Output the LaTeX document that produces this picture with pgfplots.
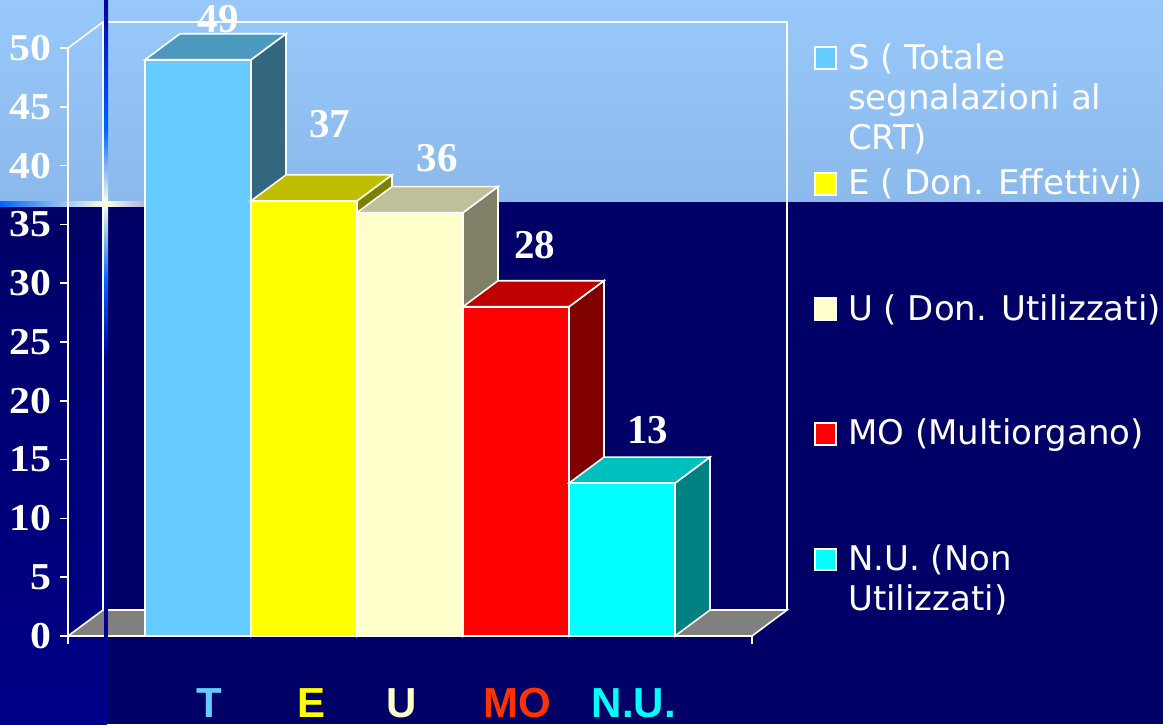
\documentclass[border=0pt]{standalone}
\usepackage{pgfplots}
\pgfplotsset{compat=1.18}
\usepackage{fontspec}
\setmainfont{DejaVu Sans}
\newfontfamily\timesfont{Liberation Serif}
\newfontfamily\arialfont{Liberation Sans}
\definecolor{navy}{HTML}{000066}
\definecolor{strip}{HTML}{000088}
\definecolor{bandtop}{RGB}{152,200,250}
\definecolor{bandbot}{RGB}{140,185,236}
\definecolor{floorgray}{HTML}{808080}
\definecolor{cTf}{HTML}{66CCFF}\definecolor{cTt}{HTML}{4C99BF}\definecolor{cTs}{HTML}{33667F}
\definecolor{cEf}{HTML}{FFFF00}\definecolor{cEt}{HTML}{BFBF00}\definecolor{cEs}{HTML}{808000}
\definecolor{cUf}{HTML}{FFFFCC}\definecolor{cUt}{HTML}{BFBF99}\definecolor{cUs}{HTML}{808066}
\definecolor{cMf}{HTML}{FF0000}\definecolor{cMt}{HTML}{BF0000}\definecolor{cMs}{HTML}{800000}
\definecolor{cNf}{HTML}{00FFFF}\definecolor{cNt}{HTML}{00BFBF}\definecolor{cNs}{HTML}{008080}
\definecolor{labMO}{HTML}{FF3300}
\definecolor{glint}{HTML}{FFFFE6}
\definecolor{brightblue}{HTML}{0066FF}
\definecolor{darkline}{HTML}{000099}
\definecolor{lowline}{HTML}{00008F}
\begin{document}
\begin{tikzpicture}[x=1pt,y=1pt]
% background
\fill[navy] (0,0) rectangle (1163,724);
\shade[bottom color=strip, top color=navy] (0,0) rectangle (107,522);
\shade[top color=bandtop, bottom color=bandbot] (0,522) rectangle (1163,724);
% horizontal glint line
\shade[left color=brightblue, right color=glint] (0,517) rectangle (105,522);
\shade[left color=glint, right color={rgb,255:red,176;green,176;blue,224}] (105,517) rectangle (145,522);

\begin{axis}[
  at={(68pt,88pt)}, anchor=south west,
  scale only axis, width=684pt, height=588pt,
  xmin=-1.2264, xmax=5.2264, ymin=0, ymax=50,
  clip=false, axis on top,
  axis x line*=bottom, axis y line*=left,
  axis line style={white, line width=1.6pt},
  tick align=outside, major tick length=8pt,
  xtick pos=left, ytick pos=left,
  ytick={0,5,...,50},
  y tick style={white, line width=1.6pt},
  /pgf/number format/assume math mode=true,
  yticklabel={\scalebox{1.1}[1]{\pgfmathprintnumber{\tick}}},
  yticklabel style={font=\timesfont\bfseries\fontsize{38}{38}\selectfont, text=white, anchor=east, inner sep=0pt, xshift=-8pt},
  xtick={0.108,1.075,1.925,3.009,4.113},
  xticklabels={{\color{cTf}T},{\color{cEf}E},{\color{cUf}U},{\color{labMO}MO},{\color{cNf}N.U.}},
  x tick style={draw=none},
  xticklabel style={font=\arialfont\bfseries\fontsize{42}{42}\selectfont, anchor=base, inner sep=0pt, yshift=-73pt},
  extra x ticks={-1.2264,5.2264},
  extra x tick labels={},
  extra x tick style={x tick style={draw=white, line width=1.6pt}},
]
% floor
\addplot[fill=floorgray, draw=white, line width=1.6pt] coordinates {(-1.2264,0) (5.2264,0) (5.5564,2.211) (-0.8964,2.211)} --cycle;
% back wall and side wall outline
\addplot[draw=white, line width=1.6pt] coordinates {(-0.8964,2.211) (-0.8964,52.211) (5.5564,52.211) (5.5564,2.211)};
\addplot[draw=white, line width=1.6pt] coordinates {(-1.2264,50) (-0.8964,52.211)};
% bar T = 49
\addplot[fill=cTs, draw=white, line width=1.6pt] coordinates {(0.5,0) (0.83,2.211) (0.83,51.211) (0.5,49)} --cycle;
\addplot[fill=cTt, draw=white, line width=1.6pt] coordinates {(-0.5,49) (0.5,49) (0.83,51.211) (-0.17,51.211)} --cycle;
\addplot[fill=cTf, draw=white, line width=1.6pt] coordinates {(-0.5,0) (0.5,0) (0.5,49) (-0.5,49)} --cycle;
% bar E = 37
\addplot[fill=cEs, draw=white, line width=1.6pt] coordinates {(1.5,0) (1.83,2.211) (1.83,39.211) (1.5,37)} --cycle;
\addplot[fill=cEt, draw=white, line width=1.6pt] coordinates {(0.5,37) (1.5,37) (1.83,39.211) (0.83,39.211)} --cycle;
\addplot[fill=cEf, draw=white, line width=1.6pt] coordinates {(0.5,0) (1.5,0) (1.5,37) (0.5,37)} --cycle;
% bar U = 36
\addplot[fill=cUs, draw=white, line width=1.6pt] coordinates {(2.5,0) (2.83,2.211) (2.83,38.211) (2.5,36)} --cycle;
\addplot[fill=cUt, draw=white, line width=1.6pt] coordinates {(1.5,36) (2.5,36) (2.83,38.211) (1.83,38.211)} --cycle;
\addplot[fill=cUf, draw=white, line width=1.6pt] coordinates {(1.5,0) (2.5,0) (2.5,36) (1.5,36)} --cycle;
% bar MO = 28
\addplot[fill=cMs, draw=white, line width=1.6pt] coordinates {(3.5,0) (3.83,2.211) (3.83,30.211) (3.5,28)} --cycle;
\addplot[fill=cMt, draw=white, line width=1.6pt] coordinates {(2.5,28) (3.5,28) (3.83,30.211) (2.83,30.211)} --cycle;
\addplot[fill=cMf, draw=white, line width=1.6pt] coordinates {(2.5,0) (3.5,0) (3.5,28) (2.5,28)} --cycle;
% bar N.U. = 13
\addplot[fill=cNs, draw=white, line width=1.6pt] coordinates {(4.5,0) (4.83,2.211) (4.83,15.211) (4.5,13)} --cycle;
\addplot[fill=cNt, draw=white, line width=1.6pt] coordinates {(3.5,13) (4.5,13) (4.83,15.211) (3.83,15.211)} --cycle;
\addplot[fill=cNf, draw=white, line width=1.6pt] coordinates {(3.5,0) (4.5,0) (4.5,13) (3.5,13)} --cycle;
% value labels
\begin{scope}[every node/.style={font=\timesfont\bfseries\fontsize{41}{41}\selectfont, text=white, inner sep=0pt}]
\node at (axis cs:0.189,52.47) {49};
\node at (axis cs:1.245,43.54) {37};
\node at (axis cs:2.255,40.65) {36};
\node at (axis cs:3.179,33.25) {28};
\node at (axis cs:4.245,17.52) {13};
\end{scope}
\end{axis}

% vertical decorative line
\fill[lowline] (104,0) rectangle (108,367);
\shade[top color=darkline, bottom color=brightblue] (104,594) rectangle (108,724);
\shade[top color=brightblue, bottom color=glint] (104,522) rectangle (108,594);
\shade[top color=glint, bottom color=brightblue] (104,444) rectangle (108,522);
\shade[top color=brightblue, bottom color=darkline] (104,367) rectangle (108,444);

% legend
\begin{scope}[every node/.style={anchor=base west, inner sep=0pt, text=white, font=\fontsize{34}{40}\selectfont}]
\filldraw[fill=cTf, draw=white, line width=1.2pt] (815,655) rectangle (836,677);
\node at (848,654) {S ( Totale};
\node at (848,614) {segnalazioni al};
\node at (848,574) {CRT)};
\filldraw[fill=cEf, draw=white, line width=1.2pt] (815,529) rectangle (836,551);
\node at (848,529) {E ( Don. Effettivi)};
\filldraw[fill=cUf, draw=white, line width=1.2pt] (815,404) rectangle (836,426);
\node at (848,403) {U ( Don. Utilizzati)};
\filldraw[fill=cMf, draw=white, line width=1.2pt] (815,279) rectangle (836,301);
\node at (848,279) {MO (Multiorgano)};
\filldraw[fill=cNf, draw=white, line width=1.2pt] (815,154) rectangle (836,175);
\node at (848,154) {N.U. (Non};
\node at (848,114) {Utilizzati)};
\end{scope}
\pgfresetboundingbox
\useasboundingbox (0,0) rectangle (1163,724);
\end{tikzpicture}
\end{document}
